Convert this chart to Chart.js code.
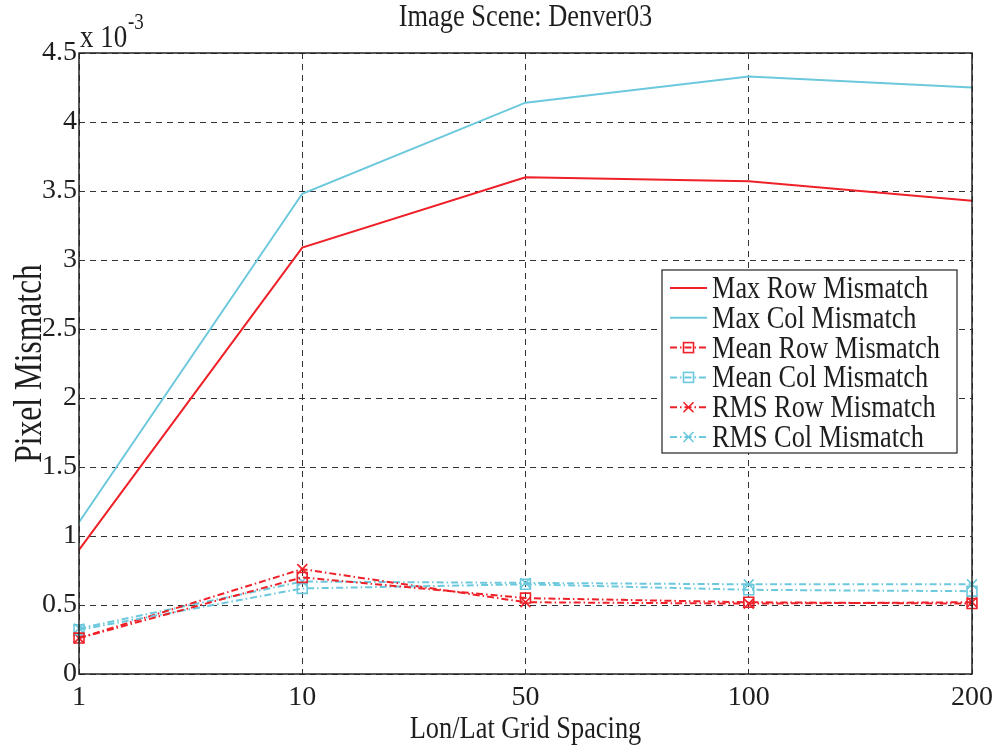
<!DOCTYPE html>
<html><head><meta charset="utf-8">
<script src="https://cdn.jsdelivr.net/npm/chart.js@4/dist/chart.umd.min.js"></script>
<style>html,body{margin:0;padding:0;background:#fff}#wrap{width:1001px;height:750px}</style>
</head><body><div id="wrap"><canvas id="c" width="1001" height="750"></canvas></div>
<script>
const categories = ['1', '10', '50', '100', '200'];
const maxRow  = [0.90, 3.09, 3.60, 3.57, 3.43];
const maxCol  = [1.10, 3.48, 4.14, 4.33, 4.25];
const meanRow = [0.26, 0.70, 0.55, 0.52, 0.51];
const meanCol = [0.32, 0.62, 0.65, 0.61, 0.60];
const rmsRow  = [0.26, 0.76, 0.52, 0.51, 0.52];
const rmsCol  = [0.33, 0.67, 0.66, 0.65, 0.65];
const seriesNames = ['Max Row Mismatch', 'Max Col Mismatch', 'Mean Row Mismatch', 'Mean Col Mismatch', 'RMS Row Mismatch', 'RMS Col Mismatch'];
const titleText = 'Image Scene: Denver03';
const xTitle = 'Lon/Lat Grid Spacing';
const yTitle = 'Pixel Mismatch';

const RED = '#ee2028';
const CYAN = '#6cc8dc';
const DASHDOT = [7, 3, 1.5, 3];
const SERIF = '"Liberation Serif", "Times New Roman", serif';

function ds(label, data, color, dashed, style) {
  return {
    label, data,
    borderColor: color, backgroundColor: 'rgba(0,0,0,0)',
    borderWidth: 2, borderDash: dashed ? DASHDOT : [],
    pointStyle: style || 'circle',
    pointRadius: style ? 7 : 0,
    pointBorderWidth: 1.6,
    pointBorderColor: color,
    pointBackgroundColor: 'rgba(0,0,0,0)',
    tension: 0, fill: false
  };
}

const datasets = [
  ds(seriesNames[0], maxRow, RED, false, null),
  ds(seriesNames[1], maxCol, CYAN, false, null),
  ds(seriesNames[2], meanRow, RED, true, 'rect'),
  ds(seriesNames[3], meanCol, CYAN, true, 'rect'),
  ds(seriesNames[4], rmsRow, RED, true, 'crossRot'),
  ds(seriesNames[5], rmsCol, CYAN, true, 'crossRot')
];

function stretchedText(ctx, text, x, y, size, align, sy) {
  ctx.save();
  ctx.translate(x, y);
  ctx.scale(1, sy);
  ctx.font = size + 'px ' + SERIF;
  ctx.textAlign = align;
  ctx.textBaseline = 'alphabetic';
  ctx.fillStyle = '#1e1e1e';
  ctx.fillText(text, 0, 0);
  ctx.restore();
}

const decorPlugin = {
  id: 'decor',
  afterDraw(chart) {
    const ctx = chart.ctx;
    const a = chart.chartArea;
    // frame
    ctx.save();
    ctx.strokeStyle = '#222';
    ctx.lineWidth = 1.5;
    ctx.setLineDash([]);
    ctx.strokeRect(a.left, a.top, a.right - a.left, a.bottom - a.top);
    ctx.restore();

    // title and axis titles
    stretchedText(ctx, titleText, (a.left + a.right) / 2, 26, 26.4, 'center', 1.2);
    stretchedText(ctx, xTitle, (a.left + a.right) / 2, 738, 26.4, 'center', 1.2);
    ctx.save();
    ctx.translate(41, (a.top + a.bottom) / 2);
    ctx.rotate(-Math.PI / 2);
    stretchedText(ctx, yTitle, 0, 0, 31.5, 'center', 1.25);
    ctx.restore();

    // exponent label
    stretchedText(ctx, 'x 10', a.left + 1, 47, 27, 'left', 1.2);
    stretchedText(ctx, '-3', a.left + 49, 29, 19, 'left', 1.2);

    // legend
    const lx = 662, ly = 270, lw = 295, lh = 183, rowH = 29.8;
    ctx.save();
    ctx.fillStyle = '#fff';
    ctx.fillRect(lx, ly, lw, lh);
    ctx.strokeStyle = '#222';
    ctx.lineWidth = 1.2;
    ctx.strokeRect(lx, ly, lw, lh);
    ctx.restore();
    chart.data.datasets.forEach((d, i) => {
      const cy = ly + 18 + i * rowH;
      ctx.save();
      ctx.strokeStyle = d.borderColor;
      ctx.lineWidth = 2;
      ctx.setLineDash(d.borderDash);
      ctx.beginPath();
      ctx.moveTo(lx + 8, cy);
      ctx.lineTo(lx + 45, cy);
      ctx.stroke();
      ctx.setLineDash([]);
      ctx.lineWidth = 1.6;
      const mx = lx + 26.5;
      if (d.pointStyle === 'rect') {
        ctx.strokeRect(mx - 5, cy - 5, 10, 10);
      } else if (d.pointStyle === 'crossRot') {
        ctx.beginPath();
        ctx.moveTo(mx - 5, cy - 5); ctx.lineTo(mx + 5, cy + 5);
        ctx.moveTo(mx + 5, cy - 5); ctx.lineTo(mx - 5, cy + 5);
        ctx.stroke();
      }
      ctx.restore();
      stretchedText(ctx, d.label, lx + 50, cy + 10, 26.3, 'left', 1.2);
    });
  }
};

new Chart(document.getElementById('c'), {
  type: 'line',
  data: { labels: categories, datasets },
  options: {
    responsive: false,
    animation: false,
    events: [],
    layout: { padding: { top: 53, right: 29, left: 0, bottom: 0 } },
    plugins: { legend: { display: false }, title: { display: false }, tooltip: { enabled: false } },
    scales: {
      x: {
        type: 'category',
        offset: false,
        afterFit(s) { s.height = 76; },
        grid: { color: '#333', lineWidth: 1, drawTicks: false },
        border: { display: false, dash: [6, 5] },
        ticks: { color: '#1e1e1e', font: { family: SERIF, size: 28 }, padding: 7, maxRotation: 0, autoSkip: false }
      },
      y: {
        min: 0, max: 4.5,
        afterFit(s) { s.width = 79; },
        grid: { color: '#333', lineWidth: 1, drawTicks: false },
        border: { display: false, dash: [6, 5] },
        ticks: { stepSize: 0.5, color: '#1e1e1e', font: { family: SERIF, size: 28 }, padding: 2,
                 callback: v => String(v) }
      }
    }
  },
  plugins: [decorPlugin]
});
</script>
</body></html>
